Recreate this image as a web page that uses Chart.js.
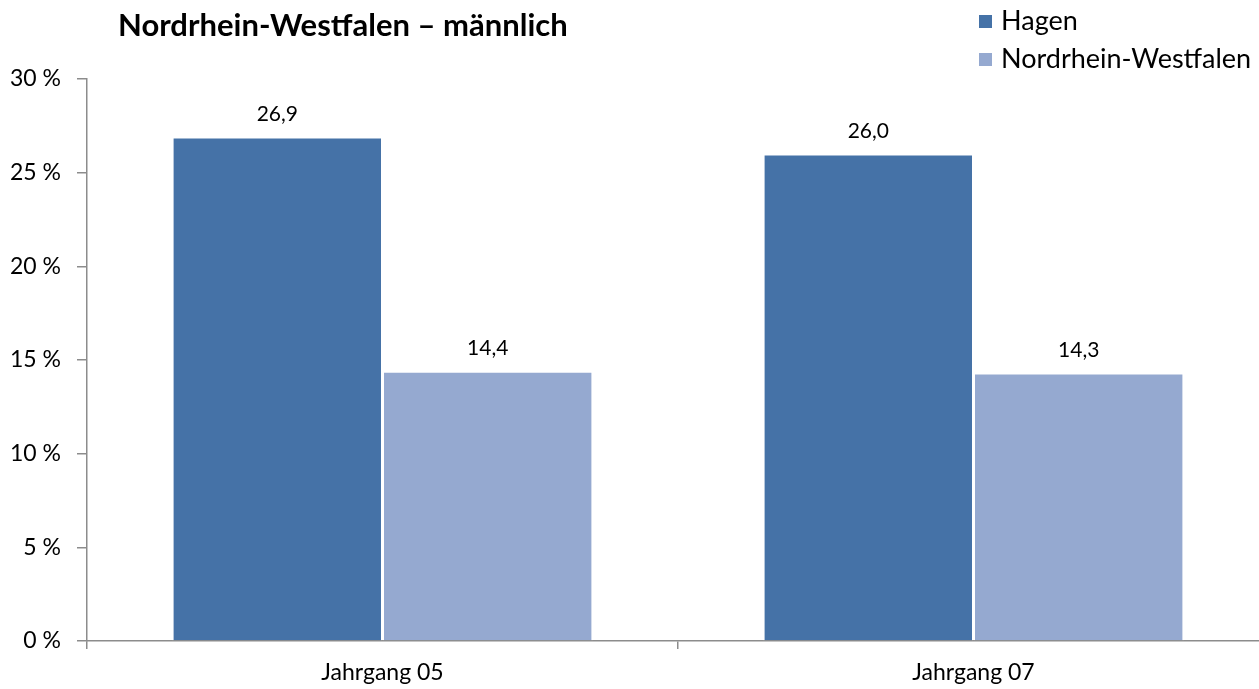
<!DOCTYPE html>
<html>
<head>
<meta charset="utf-8">
<script src="https://cdn.jsdelivr.net/npm/chart.js@4"></script>
<style>
  html, body { margin: 0; padding: 0; background: #fff; overflow: hidden; }
  #wrap { position: relative; width: 1270px; height: 689px; }
  #title { position: absolute; left: 118px; top: 5px; font: bold 31px Lato, sans-serif; color: #000; white-space: nowrap; }
  .leg { position: absolute; left: 979px; font: 27px Lato, sans-serif; color: #000; white-space: nowrap; }
  .leg span { display: inline-block; width: 13px; height: 13px; margin-right: 9px; vertical-align: 2px; }
</style>
</head>
<body>
<div id="wrap">
  <canvas id="barChart" width="1270" height="689"></canvas>
  <div id="title">Nordrhein-Westfalen – männlich</div>
  <div class="leg" style="top:3px"><span style="background:#4572A7"></span>Hagen</div>
  <div class="leg" style="top:41px"><span style="background:#95A9D0"></span>Nordrhein-Westfalen</div>
</div>
<script>
var categories = ['Jahrgang 05', 'Jahrgang 07'];
var hagen = [26.9, 26.0];
var nrw = [14.4, 14.3];
var yTicks = [0, 5, 10, 15, 20, 25, 30];

var axisColor = '#8c8c8c';

// Werte über den Balken
var valueLabels = {
    id: 'valueLabels',
    afterDatasetsDraw: function(chart) {
        var ctx = chart.ctx;
        ctx.save();
        ctx.font = '21px Lato, sans-serif';
        ctx.fillStyle = '#000';
        ctx.textAlign = 'center';
        ctx.textBaseline = 'middle';
        chart.data.datasets.forEach(function(ds, i) {
            chart.getDatasetMeta(i).data.forEach(function(bar, j) {
                ctx.fillText(ds.data[j].toFixed(1).replace('.', ','), bar.x, bar.y - 23);
            });
        });
        ctx.restore();
    }
};

var barChart = new Chart(document.getElementById('barChart'), {
    type: 'bar',
    data: {
        labels: categories,
        datasets: [{
            label: 'Hagen',
            data: hagen,
            backgroundColor: '#4572A7',
            borderColor: '#ffffff',
            borderWidth: 1.5,
            categoryPercentage: 0.712,
            barPercentage: 1
        }, {
            label: 'Nordrhein-Westfalen',
            data: nrw,
            backgroundColor: '#95A9D0',
            borderColor: '#ffffff',
            borderWidth: 1.5,
            categoryPercentage: 0.712,
            barPercentage: 1
        }]
    },
    options: {
        responsive: false,
        animation: false,
        layout: { padding: { top: 79, left: 0, right: 1, bottom: 0 } },
        plugins: {
            legend: { display: false },
            tooltip: { enabled: false }
        },
        scales: {
            x: {
                afterFit: function(s) { s.height = 48; },
                grid: { drawOnChartArea: false, tickLength: 8, color: axisColor, lineWidth: 1.5 },
                border: { color: axisColor, width: 1.5 },
                ticks: { color: '#000', padding: 10, font: { family: 'Lato', size: 23 } }
            },
            y: {
                min: 0,
                max: 30,
                afterFit: function(s) { s.width = 87; },
                afterBuildTicks: function(s) { s.ticks = yTicks.map(function(v) { return { value: v }; }); },
                grid: { drawOnChartArea: false, tickLength: 10, color: axisColor, lineWidth: 1.5 },
                border: { color: axisColor, width: 1.5 },
                ticks: {
                    color: '#000',
                    padding: 16,
                    font: { family: 'Lato', size: 23 },
                    callback: function(v) { return v + ' %'; }
                }
            }
        }
    },
    plugins: [valueLabels]
});
</script>
</body>
</html>
